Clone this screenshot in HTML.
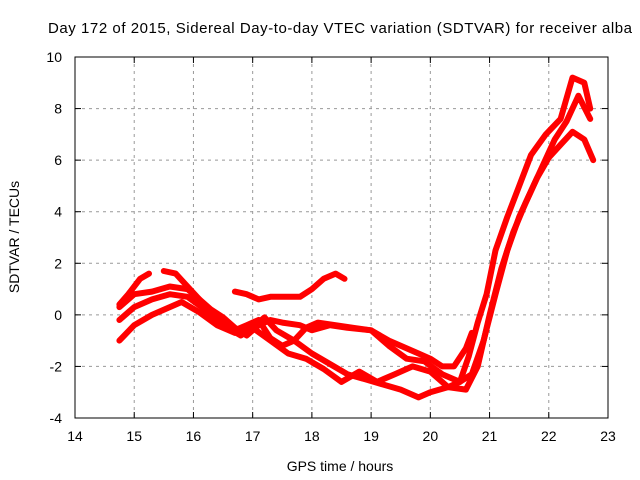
<!DOCTYPE html>
<html><head><meta charset="utf-8"><style>
body{margin:0;background:#fff}
svg{display:block;font-family:"Liberation Sans",sans-serif;font-size:14px}
</style></head><body>
<svg id="chart" width="640" height="480">
<text x="340" y="33" text-anchor="middle" style="font-size:15px" textLength="584">Day 172 of 2015, Sidereal Day-to-day VTEC variation (SDTVAR) for receiver alba</text>
<text x="340" y="471" text-anchor="middle">GPS time / hours</text>
<text transform="translate(19,237) rotate(-90)" text-anchor="middle">SDTVAR / TECUs</text>
<g id="grid"></g><g id="series"></g>
<rect x="75" y="57" width="533" height="361" fill="none" stroke="#000"/>
</svg>
<script>
const xTicks=[14,15,16,17,18,19,20,21,22,23];
const yTicks=[-4,-2,0,2,4,6,8,10];
const trace1=[[14.75,0.4],[14.9,0.8],[15.1,1.4],[15.25,1.6],null,[15.5,1.7],[15.7,1.6],[15.9,1.1],[16.1,0.6],[16.3,0.1],[16.5,-0.3],[16.7,-0.6],[16.9,-0.4],[17.1,-0.2],[17.3,-0.9],[17.5,-1.2],[17.7,-1.0],[18.0,-1.5],[18.3,-1.9],[18.6,-2.3],[18.9,-2.5],[19.2,-2.7],[19.5,-2.9],[19.8,-3.2],[20.0,-3.0],[20.3,-2.8],[20.5,-2.6],[20.65,-1.6],[20.8,-0.3],[20.95,0.8],[21.1,2.5],[21.3,3.8],[21.5,5.0],[21.7,6.2],[21.95,7.0],[22.2,7.6],[22.4,9.2],[22.6,9.0],[22.7,8.0]];
const trace2=[[14.75,0.3],[15.0,0.8],[15.3,0.9],[15.6,1.1],[15.9,1.0],[16.1,0.6],[16.3,0.2],[16.5,-0.1],[16.7,-0.5],[16.9,-0.8],[17.1,-0.4],[17.3,-0.2],[17.5,-0.3],[17.8,-0.4],[18.0,-0.6],[18.3,-0.4],[18.6,-0.5],[19.0,-0.6],[19.3,-1.0],[19.5,-1.2],[19.8,-1.5],[20.0,-1.7],[20.2,-2.0],[20.4,-2.0],[20.6,-1.3],[20.7,-0.7]];
const trace3=[[14.75,-0.2],[15.0,0.3],[15.3,0.6],[15.6,0.8],[15.9,0.7],[16.2,0.2],[16.5,-0.4],[16.8,-0.8],[17.0,-0.5],[17.2,-0.1],[17.4,-0.6],[17.7,-1.0],[17.9,-0.5],[18.1,-0.3],[18.4,-0.4],[18.7,-0.5],[19.0,-0.6],[19.3,-1.2],[19.6,-1.7],[19.9,-1.8],[20.2,-2.3],[20.5,-2.6],[20.7,-2.3],[20.9,-1.0],[21.1,0.8],[21.3,2.5],[21.5,3.8],[21.7,4.8],[21.9,5.8],[22.1,6.8],[22.3,7.5],[22.5,8.5],[22.7,7.6]];
const trace4=[[14.75,-1.0],[15.0,-0.4],[15.3,0.0],[15.6,0.3],[15.8,0.5],[16.1,0.1],[16.4,-0.4],[16.7,-0.7],[17.0,-0.5],[17.3,-1.0],[17.6,-1.5],[17.9,-1.7],[18.2,-2.1],[18.5,-2.6],[18.8,-2.2],[19.1,-2.6],[19.4,-2.3],[19.7,-2.0],[20.0,-2.2],[20.3,-2.8],[20.6,-2.9],[20.8,-2.0],[21.0,0.0],[21.2,1.8],[21.4,3.2],[21.6,4.3],[21.8,5.3],[22.0,6.1],[22.2,6.6],[22.4,7.1],[22.6,6.8],[22.75,6.0]];
const trace5=[[16.7,0.9],[16.9,0.8],[17.1,0.6],[17.3,0.7],[17.6,0.7],[17.8,0.7],[18.0,1.0],[18.2,1.4],[18.4,1.6],[18.55,1.4]];
const traces=[trace1,trace2,trace3,trace4,trace5];
const X=h=>75+(h-14)*(533/9), Y=v=>418-(v+4)*(361/14);
const NS="http://www.w3.org/2000/svg";
const grid=document.getElementById('grid'), ser=document.getElementById('series'), svg=document.getElementById('chart');
function mk(t,a,p){const e=document.createElementNS(NS,t);for(const k in a)e.setAttribute(k,a[k]);p.appendChild(e);return e;}
xTicks.forEach(t=>{
 if(t>14&&t<23){const l=mk('line',{x1:X(t),x2:X(t),y1:57,y2:418,stroke:'#999','stroke-dasharray':'3,4'},grid);
 
 }
 mk('line',{x1:X(t),x2:X(t),y1:418,y2:412,stroke:'#000'},grid);
 mk('line',{x1:X(t),x2:X(t),y1:57,y2:63,stroke:'#000'},grid);
 const tx=mk('text',{x:X(t),y:441,'text-anchor':'middle'},svg);tx.textContent=t;
 
 
});
yTicks.forEach(t=>{
 if(t>-4&&t<10){const l=mk('line',{x1:75,x2:608,y1:Y(t),y2:Y(t),stroke:'#999','stroke-dasharray':'3,4'},grid);
 
 }
 mk('line',{x1:75,x2:81,y1:Y(t),y2:Y(t),stroke:'#000'},grid);
 mk('line',{x1:602,x2:608,y1:Y(t),y2:Y(t),stroke:'#000'},grid);
 const tx=mk('text',{x:62,y:Y(t)+5,'text-anchor':'end'},svg);tx.textContent=t;
 
 
});
traces.forEach((tr,i)=>{
 let d='',pen=false;
 tr.forEach(p=>{if(!p){pen=false;return;}d+=(pen?'L':'M')+X(p[0]).toFixed(1)+','+Y(p[1]).toFixed(1);pen=true;});
 const pa=mk('path',{d:d,fill:'none',stroke:'#f00','stroke-width':6,'stroke-linejoin':'round','stroke-linecap':'round'},ser);
 
 
});
</script>
</body></html>
